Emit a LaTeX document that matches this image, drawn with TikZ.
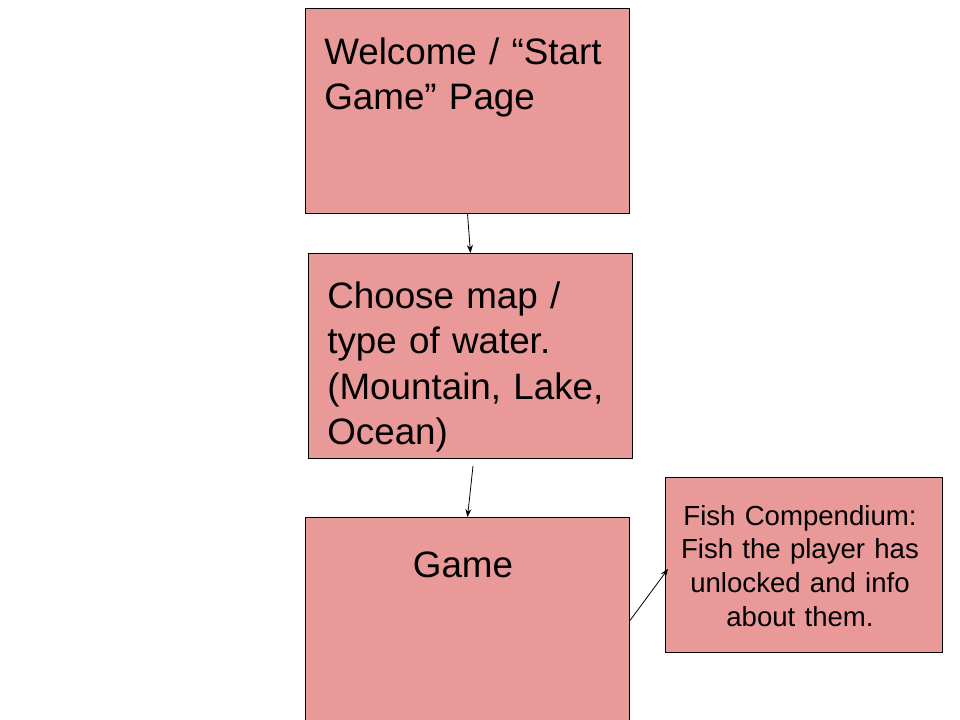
\documentclass[tikz,border=0pt]{standalone}
\usepackage{fontspec}
\setmainfont{Liberation Sans}
\usetikzlibrary{arrows.meta}
\usetikzlibrary{positioning}
\definecolor{lightred}{HTML}{EA9999}

\begin{document}
\begin{tikzpicture}[x=0.75pt, y=-0.75pt, V/.style = {rectangle, draw, line width=0.75pt,
			anchor=north west, inner sep=0, fill=lightred},
		T/.style={inner sep=0, text width=240pt, align=left, anchor=base west,
			font=\fontsize{27.6}{33.75}\selectfont},
		arr/.style={-{Stealth[length=6pt,width=4.5pt]}, line width=0.6pt}
		]
		\useasboundingbox (0,0) rectangle (960,720);
		\begin{scope}[nodes=V]
			\node[minimum width=243pt, minimum height=153.75pt] (1) at (305,8) {};
			\node[minimum width=243pt, minimum height=153.75pt] (2) at (308,253) {};
			\node[minimum width=243pt, minimum height=154.5pt] (3) at (305,517) {};
			\node[minimum width=207.75pt, minimum height=131.25pt] (4) at (665,477) {};
		\end{scope}
		
		\node[T] (t1) at (324,65) {Welcome / “Start\\Game” Page};
		\node[T] (t2) at (327,309) {Choose map /\\type of water.\\(Mountain, Lake,\\Ocean)};
		\node[T, text width=, anchor=base] (t3) at (463,577) {Game};
		\node[T, text width=200pt, align=center, anchor=base,
		font=\fontsize{20.7}{25.3}\selectfont] (t4) at (800,525)
		{Fish Compendium:\\Fish the player has\\unlocked and info\\about them.};
		
		\coordinate (c2) at (473,466);
		\coordinate (c3) at (668,569);
		
		\draw (1.south) edge[arr] (2.north);
		\draw (c2) edge[arr] (3.north);
		\draw (3.east) edge[arr] (c3);
	\end{tikzpicture}
\end{document}
